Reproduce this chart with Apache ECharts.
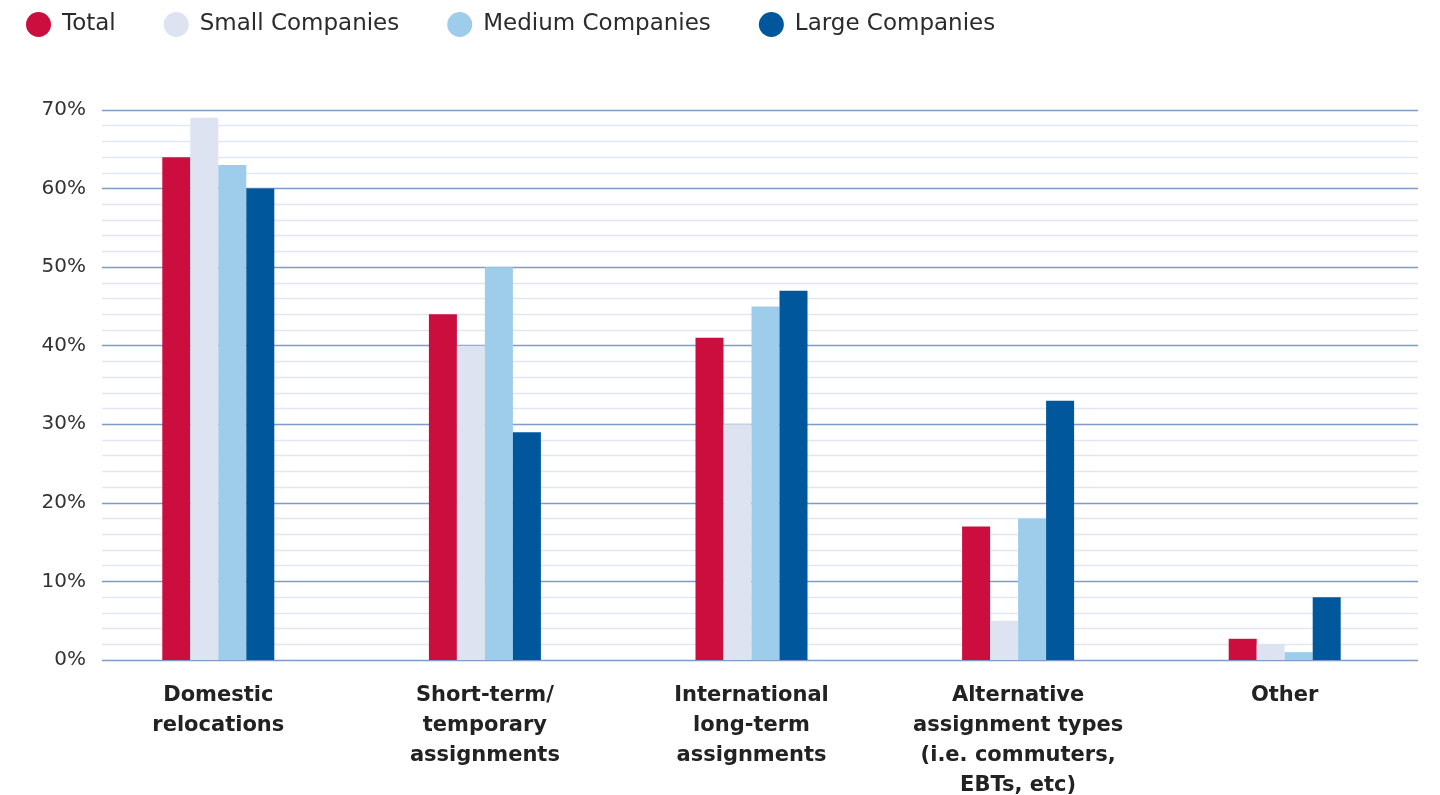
<!DOCTYPE html>
<html>
<head>
<meta charset="utf-8">
<script src="https://cdn.jsdelivr.net/npm/echarts@6/dist/echarts.min.js"></script>
<style>
  html, body { margin: 0; padding: 0; background: #ffffff; }
  #chart { width: 1440px; height: 795px; }
</style>
</head>
<body>
<div id="chart"></div>
<script>
// Assignment types managed, share of respondents by company size
const categories = [
  'Domestic\nrelocations',
  'Short-term/\ntemporary\nassignments',
  'International\nlong-term\nassignments',
  'Alternative\nassignment types\n(i.e. commuters,\nEBTs, etc)',
  'Other'
];
const seriesNames = ['Total', 'Small Companies', 'Medium Companies', 'Large Companies'];
const totalValues  = [64, 44, 41, 17, 2.7];
const smallValues  = [69, 40, 30, 5, 2];
const mediumValues = [63, 50, 45, 18, 1];
const largeValues  = [60, 29, 47, 33, 8];
const colors = ['#cc0e3f', '#dde3f0', '#9ecdec', '#00579b'];

const valueSets = [totalValues, smallValues, mediumValues, largeValues];
const fontFamily = '"DejaVu Sans", "Noto Sans", sans-serif';

const chart = echarts.init(document.getElementById('chart'), null, { renderer: 'canvas' });

const option = {
  animation: false,
  backgroundColor: '#ffffff',
  color: colors,
  textStyle: { fontFamily: fontFamily },
  legend: {
    left: 21,
    top: 7,
    padding: 5,
    icon: 'circle',
    itemWidth: 25,
    itemHeight: 25,
    itemGap: 48,
    textStyle: { fontSize: 23, color: '#2b2b2b', fontFamily: fontFamily, padding: [0, 0, 0, 6] },
    data: seriesNames
  },
  grid: [
    // gridline layer
    { left: 102, right: 22, top: 110, bottom: 135, outerBoundsMode: 'none' },
    // bars layer
    { left: 85, right: 22, top: 110, bottom: 135, outerBoundsMode: 'none' }
  ],
  xAxis: [
    { type: 'value', gridIndex: 0, min: 0, max: 1, show: false },
    {
      type: 'category',
      gridIndex: 1,
      data: categories,
      axisLine: { show: false },
      axisTick: { show: false },
      axisLabel: {
        interval: 0,
        margin: 21,
        fontSize: 21,
        fontWeight: 'bold',
        lineHeight: 30,
        color: '#222222',
        fontFamily: fontFamily
      }
    }
  ],
  yAxis: [
    {
      type: 'value',
      gridIndex: 0,
      min: 0,
      max: 70,
      interval: 10,
      axisLine: { show: false },
      axisTick: { show: false },
      axisLabel: {
        margin: 16,
        fontSize: 20,
        color: '#333333',
        fontFamily: fontFamily,
        formatter: '{value}%'
      },
      splitLine: { show: true, lineStyle: { color: '#7f9cc9', width: 1.3 } },
      minorTick: { show: false, splitNumber: 5 },
      minorSplitLine: { show: true, lineStyle: { color: '#e0e6f2', width: 1.3 } }
    },
    { type: 'value', gridIndex: 1, min: 0, max: 70, show: false }
  ],
  series: seriesNames.map((name, i) => ({
    name: name,
    type: 'bar',
    xAxisIndex: 1,
    yAxisIndex: 1,
    data: valueSets[i],
    barWidth: 28,
    barGap: '0%',
    itemStyle: { color: colors[i] }
  }))
};

chart.setOption(option);
</script>
</body>
</html>
